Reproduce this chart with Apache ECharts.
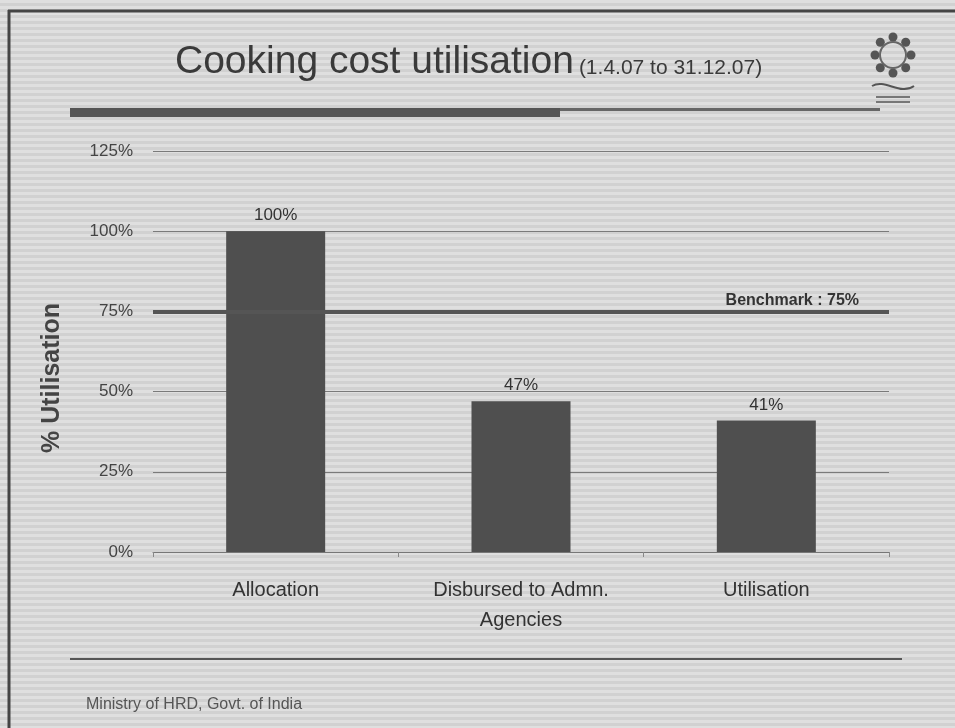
<!DOCTYPE html>
<html><head><meta charset="utf-8">
<script src="https://cdn.jsdelivr.net/npm/echarts@6/dist/echarts.min.js"></script>
<style>
html,body{margin:0;padding:0;}
body{width:955px;height:728px;background:repeating-linear-gradient(180deg,#dfdfdf 0px,#dfdfdf 3px,#d1d1d1 3px,#d1d1d1 6px);}
#c{width:955px;height:728px;}
</style></head><body>
<div id="c"></div>
<script>
const categories = ['Allocation', 'Disbursed to Admn.\nAgencies', 'Utilisation'];
const values = [100, 47, 41];
const valueLabels = ['100%', '47%', '41%'];
const benchmark = 75;
const benchmarkLabel = 'Benchmark : 75%';
const yTicks = [0, 25, 50, 75, 100, 125];

const FN = "'Liberation Sans Narrow', 'Arial Narrow', 'Liberation Sans', sans-serif";
const chart = echarts.init(document.getElementById('c'));
const logo = [];
for (let i = 0; i < 8; i++) {
  const a = i * Math.PI / 4;
  logo.push({type:'circle', shape:{cx:893 + 18*Math.cos(a), cy:55 + 18*Math.sin(a), r:4.5}, style:{fill:'#555'}});
}
logo.push({type:'circle', shape:{cx:893, cy:55, r:13}, style:{fill:'none', stroke:'#666', lineWidth:2}});
logo.push({type:'bezierCurve', shape:{x1:872,y1:86,x2:914,y2:86,cpx1:885,cpy1:78,cpx2:900,cpy2:96}, style:{stroke:'#555', lineWidth:2}});
logo.push({type:'rect', shape:{x:876,y:96,width:34,height:2}, style:{fill:'#777'}});
logo.push({type:'rect', shape:{x:876,y:101,width:34,height:2}, style:{fill:'#777'}});
chart.setOption({
  animation: false,
  backgroundColor: 'transparent',
  title: {
    left: 170, top: 38,
    text: '{a|Cooking cost utilisation} {b|(1.4.07 to 31.12.07)}',
    textStyle: { fontWeight: 'normal', rich: {
      a: {fontFamily: FN, fontSize: 39, fontWeight: 'normal', color: '#3a3a3a'},
      b: {fontFamily: FN, fontSize: 21, fontWeight: 'normal', color: '#3a3a3a', padding:[12,0,0,0]}
    }}
  },
  grid: { left: 153, right: 66, top: 151, bottom: 176 },
  xAxis: {
    type: 'category', data: categories,
    axisLine: { lineStyle: { color: '#777', width: 1 } },
    axisTick: { show: true, length: 5, lineStyle: { color: '#888' } },
    axisLabel: { fontFamily: FN, fontSize: 20, color: '#333', margin: 23, lineHeight: 30 }
  },
  yAxis: {
    type: 'value', min: 0, max: 125, interval: 25,
    axisLine: { show: false }, axisTick: { show: false },
    axisLabel: { fontFamily: FN, fontSize: 17, color: '#444', margin: 20, formatter: v => v + '%' },
    splitLine: { lineStyle: { color: '#7a7a7a', width: 1 } }
  },
  series: [{
    type: 'bar', data: values, barWidth: 99,
    itemStyle: { color: '#4f4f4f' },
    label: { show: true, position: 'top', distance: 7, fontFamily: FN, fontSize: 17, color: '#333',
      formatter: p => valueLabels[p.dataIndex] },
    markLine: {
      symbol: 'none', silent: true,
      lineStyle: { color: '#555', width: 4, type: 'solid' },
      label: { show: true, position: 'insideEndTop', formatter: benchmarkLabel, fontFamily: "'Liberation Sans', sans-serif",
        fontWeight: 'bold', fontSize: 16, color: '#333', distance: [30, 3] },
      data: [{ yAxis: benchmark }]
    }
  }],
  graphic: [
    {type:'line', shape:{x1:8, y1:11, x2:955, y2:11}, style:{stroke:'#444', lineWidth:3}},
    {type:'line', shape:{x1:9, y1:10, x2:9, y2:728}, style:{stroke:'#444', lineWidth:3}},
    {type:'rect', shape:{x:70, y:108, width:490, height:9}, style:{fill:'#555'}},
    {type:'rect', shape:{x:560, y:108, width:320, height:3}, style:{fill:'#666'}},
    {type:'line', shape:{x1:70, y1:659, x2:902, y2:659}, style:{stroke:'#555', lineWidth:2}},
    {type:'text', x: 52, y: 378, rotation: Math.PI/2,
      style:{text:'% Utilisation', fontFamily:"'Liberation Sans', sans-serif", fontWeight:'bold', fontSize:25, fill:'#444', align:'center', verticalAlign:'middle'}},
    {type:'text', left: 86, top: 697, style:{text:'Ministry of HRD, Govt. of India', fontFamily: FN, fontSize: 16, fill:'#555'}}
  ].concat(logo)
});
</script>
</body></html>
